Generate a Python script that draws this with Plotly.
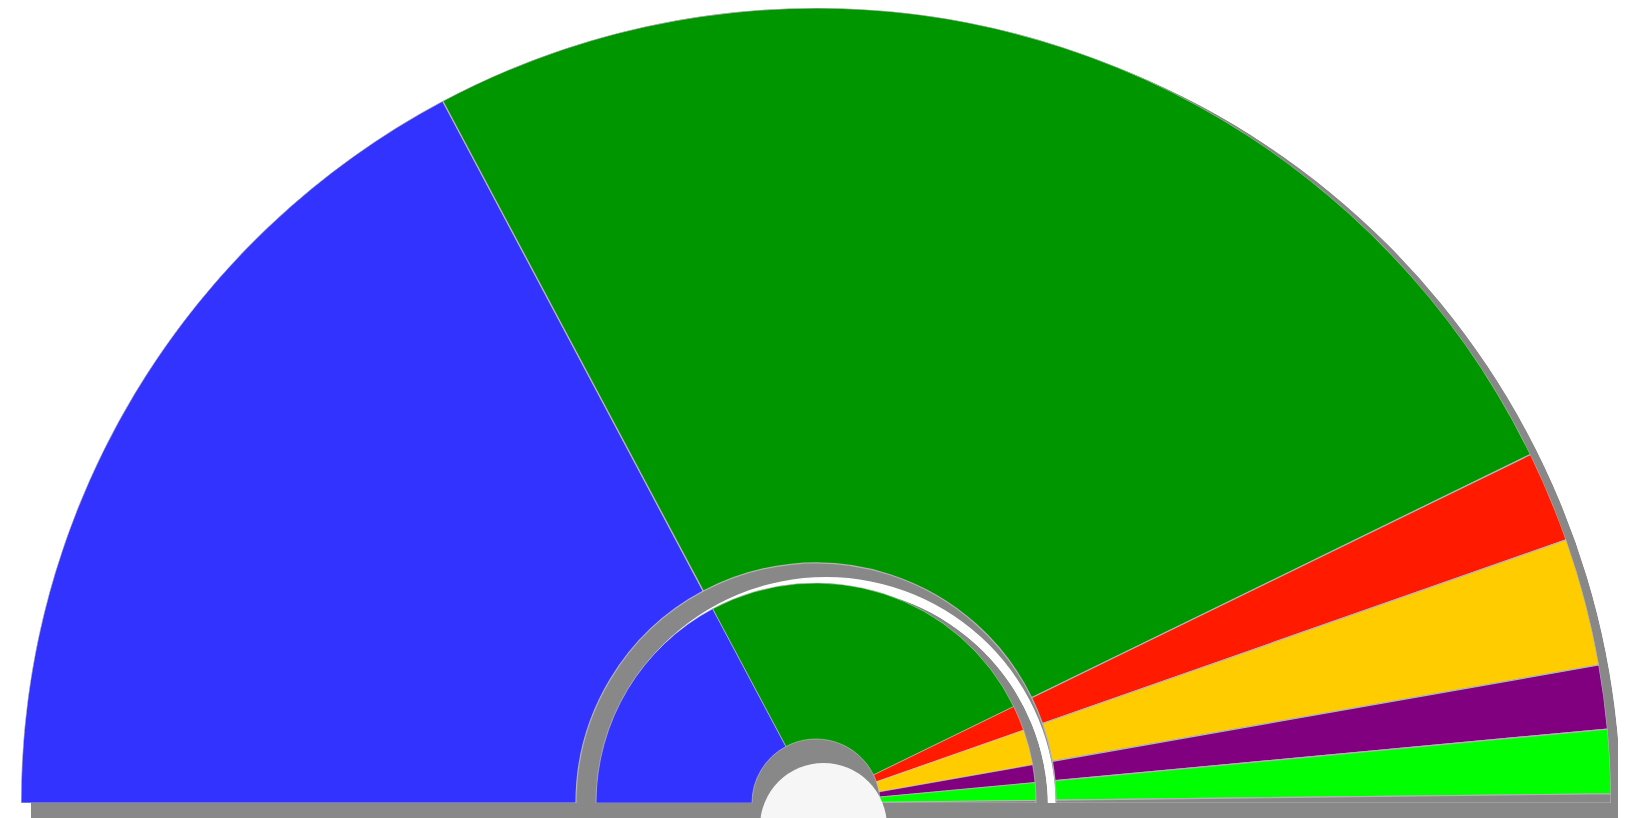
import plotly.graph_objects as go

parties = ["Blue", "Green", "Red", "Yellow", "Purple", "Lime", "Other"]
seats = [93, 138, 10, 14, 7, 7, 1]
colors = ["#3333FF", "#009600", "#FF1A00", "#FFCC00", "#800080", "#00FF00", "#888888"]

W, H = 1626, 818
OFF = 8                          # page body margin
CX, CY = 816 - OFF, 803 - OFF    # centre of the hemicycle in plot px
R = 795                          # outer radius px
R_HOLE = 240                     # inner radius of the outer ring
R_IN_OUT = 220                   # outer radius of inner ring
R_IN_IN = 64                     # inner radius of inner ring
ODX, ODY = 10, 4                 # outer-ring shadow offset
IDX, IDY = 12, 4                 # inner-ring shadow offset
FLOOR = 15                       # floor shadow height
GRAY = "#888888"

total = sum(seats)
widths = [s / total * 180 for s in seats]
centers = []
acc = 0
for w in widths:
    centers.append(acc + w / 2)
    acc += w


def polar_cfg(cx, cy, r):
    return dict(
        domain=dict(x=[max(0, (cx - r) / W), min(1, (cx + r) / W)],
                    y=[max(0, (H - cy) / H), min(1, (H - cy + r) / H)]),
        sector=[0, 180],
        bgcolor="rgba(0,0,0,0)",
        radialaxis=dict(visible=False, range=[0, r], showgrid=False),
        angularaxis=dict(visible=False, rotation=180, direction="clockwise", showgrid=False),
    )


def px(x):
    return (x - OFF) / W


def py(y):
    return 1 - (y - OFF) / H


fig = go.Figure()

# shadow of the outer ring
fig.add_trace(go.Barpolar(theta=[90], width=[180], r=[R - (R_HOLE - 10)], base=[R_HOLE - 10],
                          marker_color=GRAY, marker_line_width=0, subplot="polar", hoverinfo="skip"))
# shadow of the inner ring
fig.add_trace(go.Barpolar(theta=[90], width=[180], r=[R_IN_OUT], base=[0],
                          marker_color=GRAY, marker_line_width=0, subplot="polar2", hoverinfo="skip"))
# outer ring
fig.add_trace(go.Barpolar(theta=centers, width=widths, r=[R - R_HOLE] * len(seats),
                          base=[R_HOLE] * len(seats), marker_color=colors,
                          marker_line_color="#b4b4b4", marker_line_width=1.2,
                          text=parties, subplot="polar3"))
# inner ring
fig.add_trace(go.Barpolar(theta=centers, width=widths, r=[R_IN_OUT - R_IN_IN] * len(seats),
                          base=[R_IN_IN] * len(seats), marker_color=colors,
                          marker_line_color="#c8c8c8", marker_line_width=0.6,
                          text=parties, subplot="polar3"))

fig.update_layout(
    width=W, height=H,
    margin=dict(l=0, r=0, t=0, b=0),
    paper_bgcolor="white",
    plot_bgcolor="white",
    showlegend=False,
    polar=polar_cfg(CX + ODX, CY + ODY, R),
    polar2=polar_cfg(CX + IDX, CY + IDY, R_IN_OUT),
    polar3=polar_cfg(CX, CY, R),
    shapes=[
        # floor shadow strip
        dict(type="rect", xref="paper", yref="paper",
             x0=px(816 + ODX - R), x1=px(816 + ODX + R), y0=py(803), y1=py(803 + FLOOR),
             fillcolor=GRAY, line=dict(width=0), layer="below"),
        # centre button
        dict(type="circle", xref="paper", yref="paper",
             x0=px(760), x1=px(887), y0=py(763), y1=py(890),
             fillcolor="#f6f6f6", line=dict(width=0), layer="above"),
    ],
)

fig.write_html("out.html")
